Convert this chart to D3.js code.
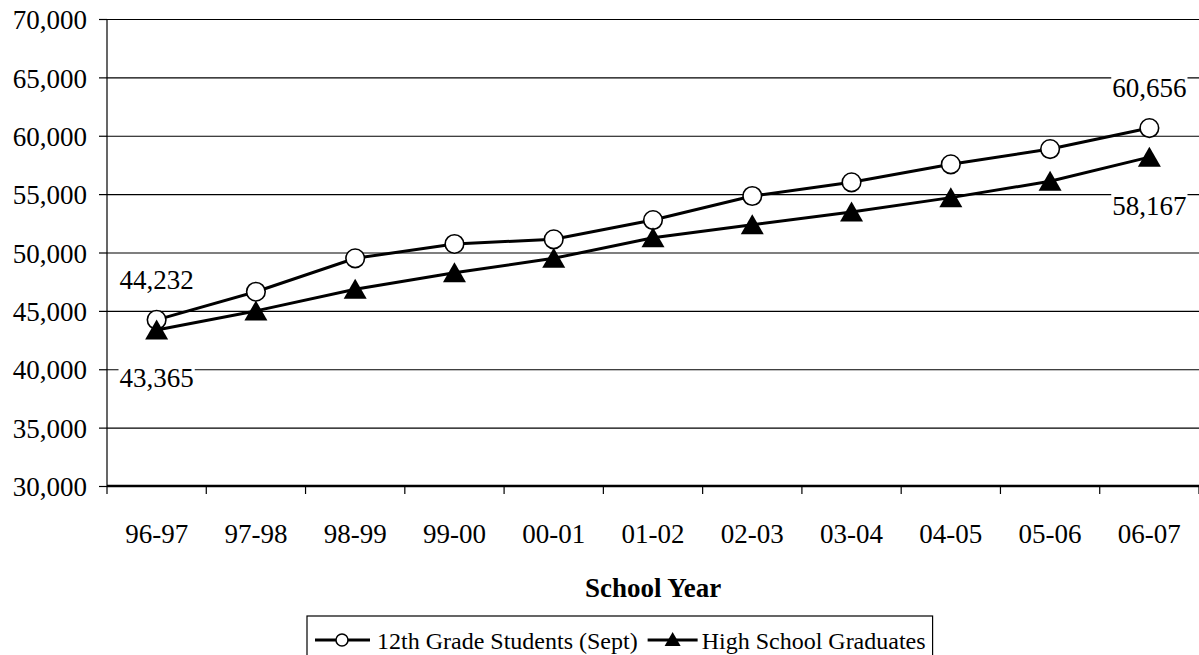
<!DOCTYPE html>
<html>
<head>
<meta charset="utf-8">
<script src="https://cdn.jsdelivr.net/npm/d3@7/dist/d3.min.js"></script>
<style>
  html, body { margin: 0; padding: 0; background: #fff; }
  svg { display: block; }
  text { font-family: "Liberation Serif", "Times New Roman", serif; fill: #000; }
</style>
</head>
<body>
<svg id="chart" width="1199" height="655"></svg>
<script>
const categories = ["96-97","97-98","98-99","99-00","00-01","01-02","02-03","03-04","04-05","05-06","06-07"];
const grade12 = [44232, 46640, 49500, 50730, 51130, 52780, 54840, 56010, 57550, 58860, 60656];
const graduates = [43365, 45000, 46850, 48270, 49500, 51270, 52380, 53470, 54700, 56100, 58167];
const yTicks = [30000, 35000, 40000, 45000, 50000, 55000, 60000, 65000, 70000];
const seriesNames = ["12th Grade Students (Sept)", "High School Graduates"];
const xTitle = "School Year";

(function () {
const svg = d3.select("#chart");
const pLeft = 107, pRight = 1199, pTop = 19, pBottom = 486;

const x = d3.scaleBand().domain(categories).range([pLeft, pRight]);
const y = d3.scaleLinear().domain([30000, 70000]).range([pBottom, pTop]);
const cx = c => x(c) + x.bandwidth() / 2;

// gridlines
svg.append("g")
  .attr("transform", `translate(${pLeft},0)`)
  .call(d3.axisLeft(y).tickValues(yTicks).tickSize(-(pRight - pLeft)).tickFormat(""))
  .call(g => g.select(".domain").remove())
  .call(g => g.selectAll("line").attr("stroke", "#000").attr("stroke-width", 1.2));

// y axis
const yAxis = svg.append("g")
  .attr("transform", `translate(${pLeft},0)`)
  .call(d3.axisLeft(y).tickValues(yTicks).tickSize(8).tickPadding(12).tickFormat(d3.format(",")));
yAxis.select(".domain").attr("stroke", "#000").attr("stroke-width", 1.2).attr("d", `M0,${pTop}V${pBottom}`);
yAxis.selectAll("line").attr("stroke", "#000").attr("stroke-width", 1.2);
yAxis.selectAll("text").attr("font-size", 27).attr("font-family", "Liberation Serif").attr("dy", "0.36em");

// x axis
const xAxis = svg.append("g")
  .attr("transform", `translate(0,${pBottom})`)
  .call(d3.axisBottom(x).tickSize(0).tickPadding(38));
xAxis.select(".domain").attr("stroke", "#000").attr("stroke-width", 2.5).attr("d", `M${pLeft},0H${pRight}`);
xAxis.selectAll("text").attr("font-size", 27).attr("font-family", "Liberation Serif");
const edges = categories.map(c => x(c)).concat([pRight]);
xAxis.selectAll(".edge").data(edges).enter().append("line")
  .attr("x1", d => d).attr("x2", d => d).attr("y1", 0).attr("y2", 8)
  .attr("stroke", "#000").attr("stroke-width", 1.2);

// x title
svg.append("text")
  .attr("x", (pLeft + pRight) / 2).attr("y", 597)
  .attr("text-anchor", "middle").attr("font-size", 27).attr("font-weight", "bold")
  .text(xTitle);

const line = d3.line().x((d, i) => cx(categories[i])).y(d => y(d));
const triPath = "M0,-10.5L11.5,9.5L-11.5,9.5Z";

// series 1
svg.append("path").datum(grade12).attr("d", line)
  .attr("fill", "none").attr("stroke", "#000").attr("stroke-width", 3);
svg.selectAll(".c1").data(grade12).enter().append("circle")
  .attr("cx", (d, i) => cx(categories[i])).attr("cy", d => y(d)).attr("r", 9.3)
  .attr("fill", "#fff").attr("stroke", "#000").attr("stroke-width", 1.6);

// series 2
svg.append("path").datum(graduates).attr("d", line)
  .attr("fill", "none").attr("stroke", "#000").attr("stroke-width", 3);
svg.selectAll(".t2").data(graduates).enter().append("path")
  .attr("transform", (d, i) => `translate(${cx(categories[i])},${y(d)})`)
  .attr("d", triPath).attr("fill", "#000");

// data labels
const fmt = d3.format(",");
const labels = [
  {i: 0, v: grade12[0], dy: -31},
  {i: 10, v: grade12[10], dy: -31},
  {i: 0, v: graduates[0], dy: 57},
  {i: 10, v: graduates[10], dy: 58}
];
labels.forEach(l => {
  const g = svg.append("g");
  const t = g.append("text")
    .attr("x", cx(categories[l.i])).attr("y", y(l.v) + l.dy)
    .attr("text-anchor", "middle").attr("font-size", 27)
    .text(fmt(l.v));
  const b = t.node().getBBox();
  g.insert("rect", "text")
    .attr("x", b.x - 1).attr("y", b.y + 2).attr("width", b.width + 2).attr("height", b.height - 4)
    .attr("fill", "#fff");
});

// legend
const lg = svg.append("g");
const lgRect = lg.append("rect").attr("x", 307).attr("y", 616).attr("height", 45)
  .attr("fill", "#fff").attr("stroke", "#000").attr("stroke-width", 1.2);
const ly = 640;
lg.append("line").attr("x1", 315).attr("x2", 370).attr("y1", ly).attr("y2", ly).attr("stroke", "#000").attr("stroke-width", 3);
lg.append("circle").attr("cx", 342).attr("cy", ly).attr("r", 6).attr("fill", "#fff").attr("stroke", "#000").attr("stroke-width", 1.5);
const t1 = lg.append("text").attr("x", 377).attr("y", 649).attr("font-size", 24).text(seriesNames[0]);
const x2 = 377 + t1.node().getComputedTextLength() + 10;
lg.append("line").attr("x1", x2).attr("x2", x2 + 50).attr("y1", ly).attr("y2", ly).attr("stroke", "#000").attr("stroke-width", 3);
lg.append("path").attr("transform", `translate(${x2 + 25},${ly})`).attr("d", "M0,-8L8,6L-8,6Z").attr("fill", "#000");
const t2 = lg.append("text").attr("x", x2 + 54).attr("y", 649).attr("font-size", 24).text(seriesNames[1]);
const endX = x2 + 54 + t2.node().getComputedTextLength() + 7;
lgRect.attr("width", endX - 307);
})();
</script>
</body>
</html>
